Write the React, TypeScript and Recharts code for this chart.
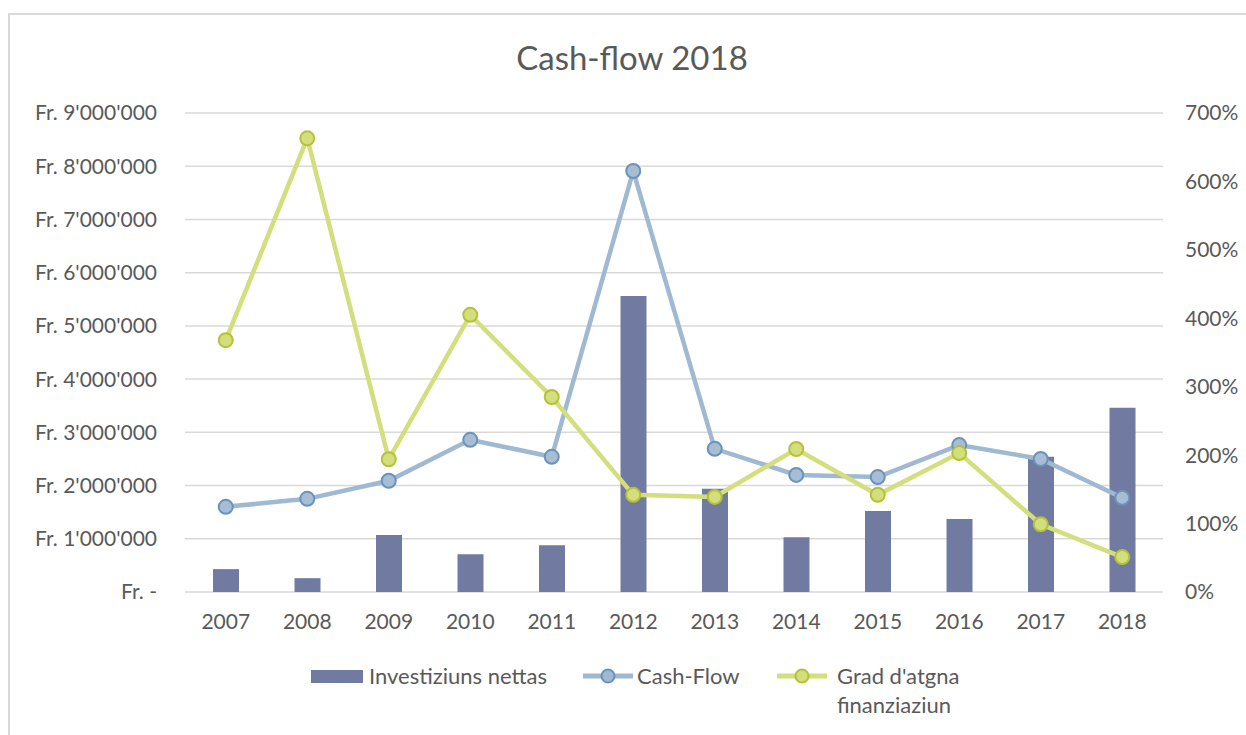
import React from "react";
import { ComposedChart, CartesianGrid, XAxis, YAxis, Bar, Line } from "recharts";

const years = ["2007", "2008", "2009", "2010", "2011", "2012", "2013", "2014", "2015", "2016", "2017", "2018"];
const investiziuns = [430000, 260000, 1070000, 710000, 880000, 5560000, 1940000, 1030000, 1520000, 1370000, 2540000, 3460000];
const cashFlow = [1600000, 1750000, 2090000, 2860000, 2540000, 7910000, 2690000, 2200000, 2160000, 2760000, 2500000, 1770000];
const grad = [368, 663, 194, 405, 285, 142, 139, 209, 142, 203, 99, 51];
const leftTicks = [0, 1000000, 2000000, 3000000, 4000000, 5000000, 6000000, 7000000, 8000000, 9000000];
const rightTicks = [0, 100, 200, 300, 400, 500, 600, 700];

const TEXT = "#595959";
const FONT = "Lato, 'Open Sans', sans-serif";
const BAR = "#717aa0";
const CF_LINE = "#a0b9d2";
const CF_STROKE = "#6a93bb";
const GR_LINE = "#d3de7c";
const GR_STROKE = "#b5c237";

const data = years.map((y, i) => ({
  year: y,
  inv: investiziuns[i],
  cf: cashFlow[i],
  grad: grad[i],
}));

const fmtFr = (v: number) => {
  if (v === 0) return "Fr. -";
  return "Fr. " + String(v).replace(/\B(?=(\d{3})+(?!\d))/g, "'");
};

const tickStyle = { fill: TEXT, fontSize: 21, fontFamily: FONT };

function LineIcon({ line, stroke }: { line: string; stroke: string }) {
  return (
    <svg width={50} height={16} style={{ display: "block" }}>
      <line x1={0} y1={8} x2={50} y2={8} stroke={line} strokeWidth={5} />
      <circle cx={25} cy={8} r={6.5} fill={line} stroke={stroke} strokeWidth={2} />
    </svg>
  );
}

export default function App() {
  return (
    <div style={{ position: "absolute", left: 0, top: 0, width: 1246, height: 735, overflow: "hidden", background: "#fff", fontFamily: FONT }}>
      <div style={{ position: "absolute", left: 8, top: 13, width: 1260, height: 740, borderTop: "2px solid #d9d9d9", borderLeft: "2px solid #d9d9d9" }} />
      <div style={{ position: "absolute", left: 0, top: 37, width: 1264, textAlign: "center", fontSize: 33, color: TEXT }}>
        Cash-flow 2018
      </div>
      <div style={{ position: "absolute", left: 0, top: 0 }}>
        <ComposedChart width={1246} height={735} data={data} margin={{ top: 113, right: 0, bottom: 103, left: 0 }}>
          <CartesianGrid vertical={false} yAxisId="left" stroke="#d9d9d9" strokeWidth={1.5} />
          <XAxis dataKey="year" axisLine={false} tickLine={false} tickSize={0} tickMargin={22} height={40} tick={tickStyle} />
          <YAxis
            yAxisId="left"
            domain={[0, 9000000]}
            ticks={leftTicks}
            width={185}
            axisLine={false}
            tickLine={false}
            tickSize={0}
            tickMargin={28}
            tickFormatter={fmtFr}
            tick={tickStyle}
          />
          <YAxis
            yAxisId="right"
            orientation="right"
            domain={[0, 700]}
            ticks={rightTicks}
            width={83}
            axisLine={false}
            tickLine={false}
            tickSize={0}
            tickMargin={22}
            tickFormatter={(v: number) => v + "%"}
            tick={tickStyle}
          />
          <Bar yAxisId="left" dataKey="inv" name="Investiziuns nettas" fill={BAR} barSize={26} isAnimationActive={false} />
          <Line
            yAxisId="left"
            dataKey="cf"
            name="Cash-Flow"
            stroke={CF_LINE}
            strokeWidth={4.5}
            dot={{ r: 7, fill: "#a7bdd4", stroke: CF_STROKE, strokeWidth: 2 }}
            isAnimationActive={false}
          />
          <Line
            yAxisId="right"
            dataKey="grad"
            name="Grad d'atgna finanziaziun"
            stroke={GR_LINE}
            strokeWidth={4.5}
            dot={{ r: 7, fill: GR_LINE, stroke: GR_STROKE, strokeWidth: 2 }}
            isAnimationActive={false}
          />
        </ComposedChart>
      </div>
      <div style={{ position: "absolute", top: 661, left: 0, width: 1246, fontSize: 22, color: TEXT, lineHeight: "29px" }}>
        <div style={{ position: "absolute", left: 311, top: 9, width: 52, height: 13, background: BAR }} />
        <div style={{ position: "absolute", left: 369, top: 0, whiteSpace: "nowrap" }}>Investiziuns nettas</div>
        <div style={{ position: "absolute", left: 583, top: 7 }}>
          <LineIcon line={CF_LINE} stroke={CF_STROKE} />
        </div>
        <div style={{ position: "absolute", left: 637, top: 0, whiteSpace: "nowrap" }}>Cash-Flow</div>
        <div style={{ position: "absolute", left: 777, top: 7 }}>
          <LineIcon line={GR_LINE} stroke={GR_STROKE} />
        </div>
        <div style={{ position: "absolute", left: 837, top: 0, width: 150 }}>Grad d'atgna finanziaziun</div>
      </div>
    </div>
  );
}
